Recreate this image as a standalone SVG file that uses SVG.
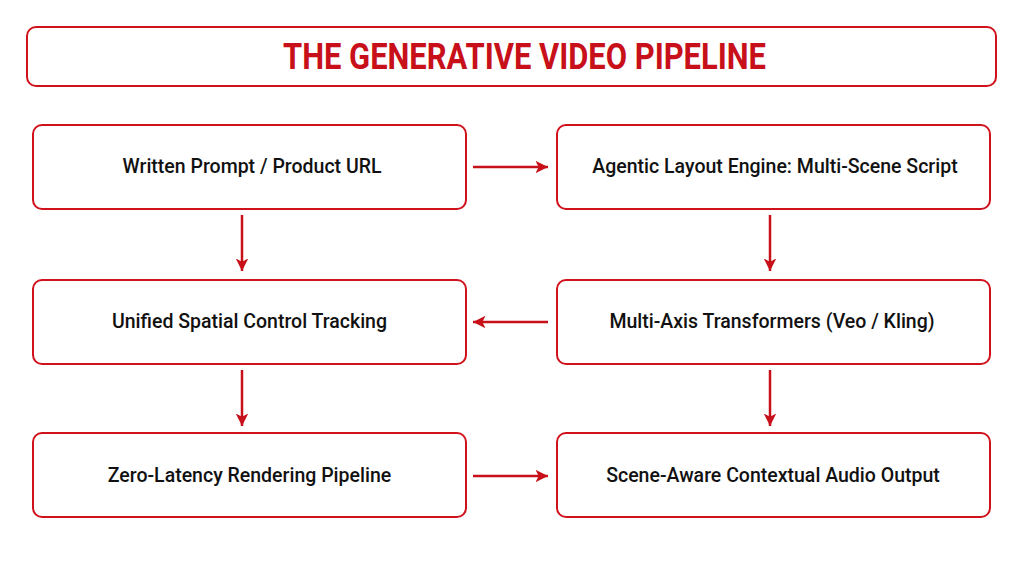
<svg xmlns="http://www.w3.org/2000/svg" width="1024" height="576" viewBox="0 0 1024 576">
<style>
.box{fill:#ffffff;stroke:#d0121c;stroke-width:2}
.lbl{font-family:Roboto,"Liberation Sans",sans-serif;font-weight:500;font-size:19.5px;fill:#111111;text-anchor:middle;dominant-baseline:central}
.title{font-family:Roboto,"Liberation Sans",sans-serif;font-weight:700;font-size:36px;fill:#c8101a;text-anchor:middle;dominant-baseline:central}
.conn{stroke:#c8101a;stroke-width:2.5;fill:none;marker-end:url(#ah)}
</style>
<defs>
<marker id="ah" viewBox="0 0 10 10" refX="10" refY="5" markerWidth="5" markerHeight="5" markerUnits="strokeWidth" orient="auto">
<path d="M0,0 L10,5 L0,10 L2.5,5 Z" fill="#c8101a"/>
</marker>
</defs>
<rect width="1024" height="576" fill="#ffffff"/>
<g id="title">
<rect class="box" x="27" y="27" width="969" height="59" rx="9"/>
<text class="title" x="524.5" y="57" textLength="483" lengthAdjust="spacingAndGlyphs">THE GENERATIVE VIDEO PIPELINE</text>
</g>
<g id="n1">
<rect class="box" x="33" y="125" width="433" height="84" rx="9"/>
<text class="lbl" x="252" y="166">Written Prompt / Product URL</text>
</g>
<g id="n2">
<rect class="box" x="557" y="125" width="433" height="84" rx="9"/>
<text class="lbl" x="775" y="166">Agentic Layout Engine: Multi-Scene Script</text>
</g>
<g id="n3">
<rect class="box" x="557" y="280" width="433" height="84" rx="9"/>
<text class="lbl" x="772" y="321">Multi-Axis Transformers (Veo / Kling)</text>
</g>
<g id="n4">
<rect class="box" x="33" y="280" width="433" height="84" rx="9"/>
<text class="lbl" x="249.5" y="321">Unified Spatial Control Tracking</text>
</g>
<g id="n5">
<rect class="box" x="33" y="433" width="433" height="84" rx="9"/>
<text class="lbl" x="249.5" y="475">Zero-Latency Rendering Pipeline</text>
</g>
<g id="n6">
<rect class="box" x="557" y="433" width="433" height="84" rx="9"/>
<text class="lbl" x="773" y="475">Scene-Aware Contextual Audio Output</text>
</g>
<g id="connectors">
<line class="conn" x1="473" y1="167" x2="548" y2="167"/>
<line class="conn" x1="770" y1="215" x2="770" y2="271"/>
<line class="conn" x1="548" y1="322" x2="473" y2="322"/>
<line class="conn" x1="242" y1="215" x2="242" y2="271"/>
<line class="conn" x1="242" y1="370" x2="242" y2="426"/>
<line class="conn" x1="770" y1="370" x2="770" y2="426"/>
<line class="conn" x1="473" y1="476" x2="548" y2="476"/>
</g>
</svg>
